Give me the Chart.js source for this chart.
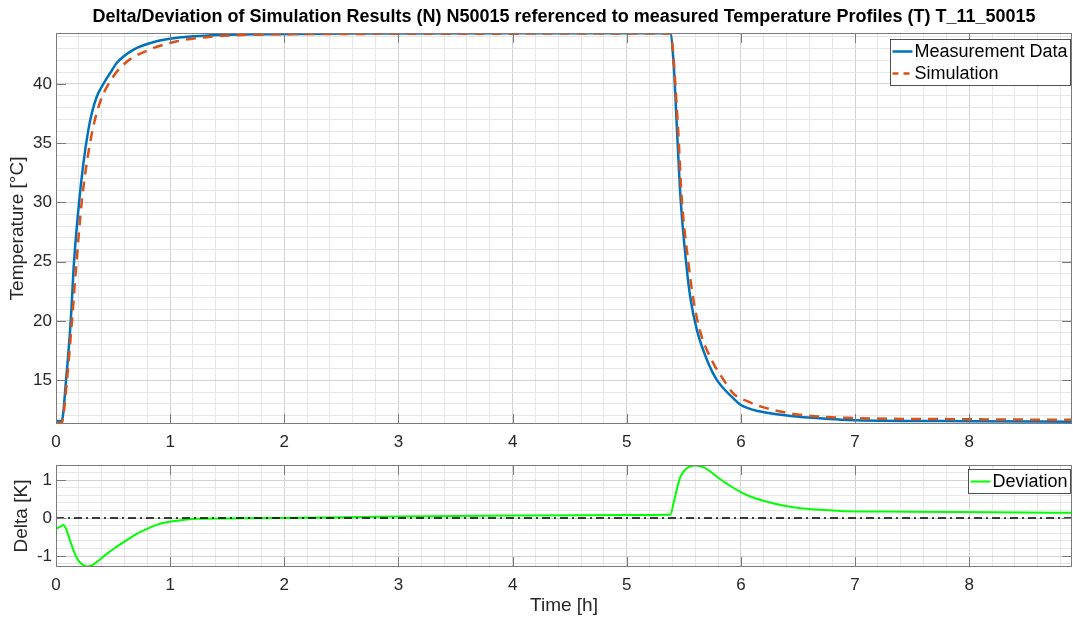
<!DOCTYPE html>
<html>
<head>
<meta charset="utf-8">
<script src="https://cdn.jsdelivr.net/npm/chart.js@4.4.1/dist/chart.umd.min.js"></script>
<style>
    html, body { margin: 0; padding: 0; background: #fff; }
    #wrap { position: relative; width: 1073px; height: 617px; }
    #tempChart { position: absolute; left: 0; top: 0; }
    #deltaChart { position: absolute; left: 0; top: 450px; }
</style>
</head>
<body>
<div id="wrap">
    <canvas id="tempChart" width="1073" height="450"></canvas>
    <canvas id="deltaChart" width="1073" height="167"></canvas>
</div>
<script>
// Measured temperature profile (time in h, temperature in °C)
const timeMeasured = [0, 0.05, 0.088, 0.129, 0.158, 0.202, 0.24, 0.283, 0.313, 0.356, 0.415, 0.473, 0.53, 0.68, 0.88, 1.11, 1.35, 1.8, 2.5, 4.0,
    5.38, 5.41, 5.44, 5.47, 5.52, 5.556, 5.615, 5.72, 5.79, 5.94, 6.0, 6.17, 6.46, 6.52, 7.0, 8.0, 8.9];
const tempMeasured = [11.55, 11.55, 15, 20, 25, 30, 33.3, 36.1, 37.5, 38.9, 40, 40.9, 41.75, 42.9, 43.6, 43.95, 44.1, 44.2, 44.25, 44.28,
    44.28, 41.75, 36.1, 30.5, 24.9, 22.0, 19.2, 16.3, 15.0, 13.4, 12.9, 12.35, 11.95, 11.9, 11.62, 11.54, 11.5];

// Simulated temperature profile
const timeSimulated = [0, 0.05, 0.096, 0.14, 0.18, 0.225, 0.298, 0.37, 0.46, 0.605, 0.82, 1.06, 1.32, 1.7, 2.5,
    5.38, 5.45, 5.48, 5.54, 5.58, 5.64, 5.76, 5.85, 5.93, 6.06, 6.2, 6.43, 6.6, 6.93, 8.0, 8.9];
const tempSimulated = [11.4, 11.4, 15, 20, 25, 30, 35, 38, 40, 41.75, 42.9, 43.6, 43.95, 44.15, 44.22,
    44.25, 36.1, 30.5, 24.9, 22.0, 19.2, 16.4, 15.0, 13.9, 13.2, 12.7, 12.2, 12.0, 11.82, 11.7, 11.65];

// Deviation simulation - measurement (K)
const timeDeviation = [0, 0.03, 0.065, 0.09, 0.12, 0.15, 0.18, 0.22, 0.275, 0.33, 0.385, 0.45, 0.53, 0.62, 0.71, 0.8, 0.88,
    0.97, 1.06, 1.23, 1.5, 2.0, 3.0, 4.0, 5.0, 5.38, 5.41, 5.44, 5.47, 5.52, 5.6, 5.68, 5.79, 5.89, 5.99, 6.1,
    6.23, 6.37, 6.52, 6.7, 6.87, 7.45, 8.2, 8.9];
const deltaDeviation = [-0.28, -0.24, -0.18, -0.3, -0.57, -0.82, -1.04, -1.2, -1.28, -1.22, -1.09, -0.93, -0.76, -0.58, -0.41, -0.28, -0.18,
    -0.11, -0.07, -0.02, -0.01, 0.0, 0.04, 0.065, 0.08, 0.086, 0.39, 0.78, 1.09, 1.3, 1.39, 1.33, 1.09, 0.88, 0.7, 0.55,
    0.43, 0.33, 0.26, 0.22, 0.19, 0.17, 0.155, 0.14];

// Axis ranges and tick labels
const timeRange = [0, 8.9];
const tempRange = [11.3, 44.3];
const deltaRange = [-1.29, 1.40];
const timeTicks = [0, 1, 2, 3, 4, 5, 6, 7, 8];
const tempTicks = [15, 20, 25, 30, 35, 40];
const deltaTicks = [-1, 0, 1];
const timeMinorStep = 0.2;
const tempMinorStep = 1;
const deltaMinorStep = 0.2;

const chartTitle = 'Delta/Deviation of Simulation Results (N) N50015 referenced to measured Temperature Profiles (T) T_11_50015';

const FONT = "'Liberation Sans', Arial, Helvetica, sans-serif";
const TEXT_COLOR = '#262626';
const MAJOR_GRID = '#d2d2d2';
const MINOR_GRID = '#e6e6e6';
const FRAME_COLOR = '#7a7a7a';
const TICK_SIZE = 17;
const LABEL_SIZE = 19;
const LEGEND_SIZE = 18;

function toPoints(xs, ys) {
    return xs.map((x, i) => ({ x: x, y: ys[i] }));
}

function isMajor(value, majors) {
    return majors.some(m => Math.abs(m - value) < 1e-6);
}

// minor tick positions so that grid lines land on the minor steps
function stepTicks(min, max, step) {
    const out = [];
    const start = Math.ceil(min / step - 1e-9);
    const end = Math.floor(max / step + 1e-9);
    for (let k = start; k <= end; k++) {
        out.push({ value: +(k * step).toFixed(6) });
    }
    return out;
}

function axisOptions(range, majors, step, tickPadding, extra) {
    return Object.assign({
        type: 'linear',
        min: range[0],
        max: range[1],
        afterBuildTicks: scale => { scale.ticks = stepTicks(range[0], range[1], step); },
        border: { display: false },
        grid: {
            drawTicks: false,
            color: ctx => isMajor(ctx.tick.value, majors) ? MAJOR_GRID : MINOR_GRID,
            lineWidth: 1
        },
        ticks: {
            autoSkip: false,
            maxRotation: 0,
            padding: tickPadding,
            color: TEXT_COLOR,
            font: { family: FONT, size: TICK_SIZE },
            callback: value => isMajor(value, majors) ? String(Math.round(value)) : ''
        }
    }, extra);
}

// Matlab-like box around the axes with inward tick marks, boxed legend and axes-centred title
const frameBoxPlugin = {
    id: 'frameBox',
    afterDatasetsDraw(chart, args, opts) {
        const { ctx, chartArea: a, scales } = chart;
        const len = 10;
        ctx.save();
        ctx.strokeStyle = FRAME_COLOR;
        ctx.lineWidth = 1;
        ctx.beginPath();
        opts.xMajor.forEach(v => {
            const px = Math.round(scales.x.getPixelForValue(v)) + 0.5;
            ctx.moveTo(px, a.top); ctx.lineTo(px, a.top + len);
            ctx.moveTo(px, a.bottom); ctx.lineTo(px, a.bottom - len);
        });
        opts.yMajor.forEach(v => {
            const py = Math.round(scales.y.getPixelForValue(v)) + 0.5;
            ctx.moveTo(a.left, py); ctx.lineTo(a.left + len, py);
            ctx.moveTo(a.right, py); ctx.lineTo(a.right - len, py);
        });
        ctx.stroke();
        ctx.strokeRect(Math.round(a.left) + 0.5, Math.round(a.top) + 0.5,
            Math.round(a.right - a.left) - 1, Math.round(a.bottom - a.top) - 1);

        if (opts.title) {
            ctx.font = 'bold 18px ' + FONT;
            ctx.fillStyle = '#000';
            ctx.textAlign = 'center';
            ctx.textBaseline = 'middle';
            ctx.fillText(opts.title, (a.left + a.right) / 2, 17);
        }

        const items = opts.legend;
        ctx.font = LEGEND_SIZE + 'px ' + FONT;
        const textW = Math.max(...items.map(it => ctx.measureText(it.text).width));
        const rowH = 22;
        const boxW = Math.round(24 + textW + 3);
        const boxH = items.length * rowH + 2;
        const bx = Math.round(a.right - 2 - boxW) + 0.5;
        const by = Math.round(a.top + opts.legendTop) + 0.5;
        ctx.fillStyle = '#fff';
        ctx.fillRect(bx, by, boxW, boxH);
        ctx.strokeStyle = '#262626';
        ctx.lineWidth = 0.8;
        ctx.strokeRect(bx, by, boxW, boxH);
        items.forEach((it, i) => {
            const cy = by + 1 + rowH * i + rowH / 2;
            ctx.strokeStyle = it.color;
            ctx.lineWidth = it.width;
            ctx.setLineDash(it.dash || []);
            ctx.beginPath();
            ctx.moveTo(bx + 2, cy);
            ctx.lineTo(bx + 22, cy);
            ctx.stroke();
            ctx.setLineDash([]);
            ctx.fillStyle = '#000';
            ctx.textAlign = 'left';
            ctx.textBaseline = 'middle';
            ctx.fillText(it.text, bx + 24, cy + 1);
        });
        ctx.restore();
    }
};

const BLUE = 'rgb(0, 114, 189)';
const ORANGE = 'rgb(217, 83, 25)';
const GREEN = 'rgb(0, 255, 0)';

// Upper chart: temperature profiles
new Chart(document.getElementById('tempChart'), {
    type: 'line',
    plugins: [frameBoxPlugin],
    data: {
        datasets: [
            {
                label: 'Simulation',
                data: toPoints(timeSimulated, tempSimulated),
                borderColor: ORANGE,
                borderWidth: 2.5,
                borderDash: [10, 7],
                pointRadius: 0,
                cubicInterpolationMode: 'monotone'
            },
            {
                label: 'Measurement Data',
                data: toPoints(timeMeasured, tempMeasured),
                borderColor: BLUE,
                borderWidth: 2.5,
                pointRadius: 0,
                cubicInterpolationMode: 'monotone'
            }
        ]
    },
    options: {
        responsive: false,
        animation: false,
        layout: { padding: { left: 0, right: 1, top: 33, bottom: 0 } },
        scales: {
            x: axisOptions(timeRange, timeTicks, timeMinorStep, 8, {
                afterFit: scale => { scale.height = 26; }
            }),
            y: axisOptions(tempRange, tempTicks, tempMinorStep, 4, {
                afterFit: scale => { scale.width = 56; },
                title: {
                    display: true,
                    text: 'Temperature [°C]',
                    color: TEXT_COLOR,
                    font: { family: FONT, size: LABEL_SIZE },
                    padding: { top: 6, bottom: 0 }
                }
            })
        },
        plugins: {
            legend: { display: false },
            tooltip: { enabled: false },
            title: { display: false },
            frameBox: {
                title: chartTitle,
                xMajor: timeTicks,
                yMajor: tempTicks,
                legendTop: 6,
                legend: [
                    { text: 'Measurement Data', color: BLUE, width: 2.5 },
                    { text: 'Simulation', color: ORANGE, width: 2.5, dash: [6, 5] }
                ]
            }
        }
    }
});

// Lower chart: deviation
new Chart(document.getElementById('deltaChart'), {
    type: 'line',
    plugins: [frameBoxPlugin],
    data: {
        datasets: [
            {
                label: 'Zero',
                data: toPoints(timeRange, [0, 0]),
                borderColor: '#000',
                borderWidth: 1.5,
                borderDash: [8, 4, 2, 4],
                pointRadius: 0
            },
            {
                label: 'Deviation',
                data: toPoints(timeDeviation, deltaDeviation),
                borderColor: GREEN,
                borderWidth: 2,
                pointRadius: 0,
                cubicInterpolationMode: 'monotone'
            }
        ]
    },
    options: {
        responsive: false,
        animation: false,
        layout: { padding: { left: 0, right: 1, top: 15, bottom: 0 } },
        scales: {
            x: axisOptions(timeRange, timeTicks, timeMinorStep, 8, {
                afterFit: scale => { scale.height = 50; },
                title: {
                    display: true,
                    text: 'Time [h]',
                    color: TEXT_COLOR,
                    font: { family: FONT, size: LABEL_SIZE },
                    padding: { top: 0, bottom: 0 }
                }
            }),
            y: axisOptions(deltaRange, deltaTicks, deltaMinorStep, 4, {
                afterFit: scale => { scale.width = 56; },
                title: {
                    display: true,
                    text: 'Delta [K]',
                    color: TEXT_COLOR,
                    font: { family: FONT, size: LABEL_SIZE },
                    padding: { top: 10, bottom: 0 }
                }
            })
        },
        plugins: {
            legend: { display: false },
            tooltip: { enabled: false },
            frameBox: {
                xMajor: timeTicks,
                yMajor: deltaTicks,
                legendTop: 4,
                legend: [
                    { text: 'Deviation', color: GREEN, width: 2 }
                ]
            }
        }
    }
});
</script>
</body>
</html>
